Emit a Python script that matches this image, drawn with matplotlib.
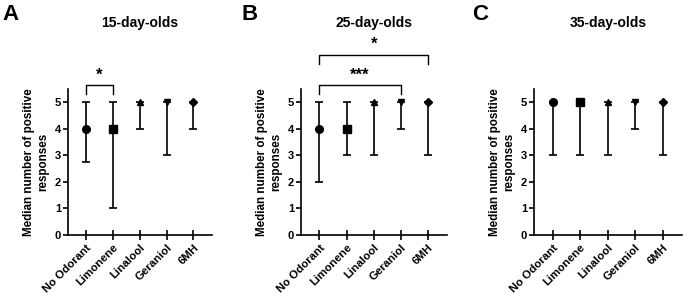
import matplotlib
matplotlib.use("Agg")
import matplotlib.pyplot as plt

plt.rcParams['font.family'] = ['Liberation Sans', 'DejaVu Sans']
plt.rcParams['font.weight'] = 'bold'

categories = ["No Odorant", "Limonene", "Linalool", "Geraniol", "6MH"]
titles = ["15-day-olds", "25-day-olds", "35-day-olds"]
panel_letters = ["A", "B", "C"]

median_15 = [4, 4, 5, 5, 5]
low_15 = [2.75, 1, 4, 3, 4]
high_15 = [5, 5, 5, 5, 5]

median_25 = [4, 4, 5, 5, 5]
low_25 = [2, 3, 3, 4, 3]
high_25 = [5, 5, 5, 5, 5]

median_35 = [5, 5, 5, 5, 5]
low_35 = [3, 3, 3, 4, 3]
high_35 = [5, 5, 5, 5, 5]

# significance brackets: (group i, group j, level, label)
sig_15 = [(0, 1, 5.65, "*")]
sig_25 = [(0, 3, 5.65, "***"), (0, 4, 6.8, "*")]
sig_35 = []

markers = ["o", "s", "^", "v", "D"]
marker_sizes = [5.5, 5.5, 5, 5, 4]

data = [(median_15, low_15, high_15, sig_15),
        (median_25, low_25, high_25, sig_25),
        (median_35, low_35, high_35, sig_35)]

fig = plt.figure(figsize=(6.83, 2.97), dpi=100)
lefts = [0.0996, 0.4407, 0.7818]
widths = [0.211, 0.2138, 0.2167]
bottom = 0.209
height = 0.491

for k in range(3):
    ax = fig.add_axes([lefts[k], bottom, widths[k], height])
    med, lo, hi, sig = data[k]
    for i in range(len(categories)):
        ax.errorbar([i], [med[i]], yerr=[[med[i] - lo[i]], [hi[i] - med[i]]],
                    fmt=markers[i], color='black', ms=marker_sizes[i],
                    elinewidth=1.2, capsize=2.8, capthick=1.2, clip_on=False, zorder=3)
    ax.set_xlim(-0.68, 4.7)
    ax.set_ylim(0, 5.5)
    ax.set_yticks([0, 1, 2, 3, 4, 5])
    ax.set_xticks(range(len(categories)))
    ax.set_xticklabels(categories, rotation=45, ha='right', rotation_mode='anchor',
                       fontsize=8.2, fontweight='bold')
    for lab in ax.get_yticklabels():
        lab.set_fontsize(8)
        lab.set_fontweight('bold')
    ax.tick_params(axis='x', direction='inout', length=7, width=1.2, pad=2)
    ax.tick_params(axis='y', direction='out', length=3.5, width=1.2, pad=1.5)
    for s in ['top', 'right']:
        ax.spines[s].set_visible(False)
    for s in ['left', 'bottom']:
        ax.spines[s].set_linewidth(1.2)
    ax.set_ylabel("Median number of positive\nresponses", fontsize=8.4,
                  fontweight='bold', labelpad=4)
    # significance brackets
    for (a, b, y, lab) in sig:
        ax.plot([a, a, b, b], [y - 0.34, y, y, y - 0.34], color='black',
                lw=1.0, clip_on=False)
        ax.text((a + b) / 2, y + 0.1, lab, ha='center', va='bottom',
                fontsize=12, fontweight='bold')
    # title centered over axes
    fig.text(lefts[k] + widths[k] / 2, 0.923, titles[k], ha='center', va='center',
             fontsize=10, fontweight='bold')
    fig.text([0.004, 0.354, 0.691][k], 0.952, panel_letters[k], ha='left', va='center',
             fontsize=16, fontweight='bold')

fig.savefig("out.png", dpi=100)
